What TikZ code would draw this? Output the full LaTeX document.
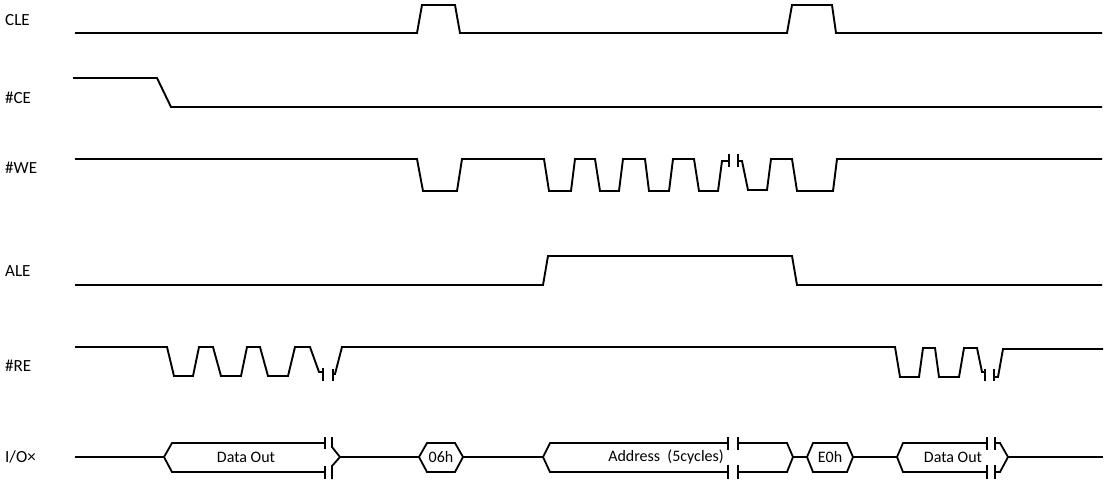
\documentclass[tikz,border=0pt]{standalone}
\usepackage{fontspec}
\setmainfont{Carlito}
\begin{document}
\begin{tikzpicture}[x=1pt,y=-1pt,
  sig/.style={line width=1.9pt,line join=miter,line cap=butt},
  bus/.style={line width=1.8pt,line join=miter},
  wire/.style={line width=1.4pt},
  lbl/.style={anchor=west,inner sep=0pt,font=\fontsize{17}{20}\selectfont},
  txt/.style={inner sep=0pt,font=\fontsize{16}{19}\selectfont}]
\useasboundingbox (0,0) rectangle (1107,480);
% labels
\node[lbl] (lcle) at (5,20) {CLE};
\node[lbl] (lce) at (5,98) {\#CE};
\node[lbl] (lwe) at (5,168) {\#WE};
\node[lbl] (lale) at (5,271) {ALE};
\node[lbl] (lre) at (5,366) {\#RE};
\node[lbl] (lio) at (5,457) {I/O×};
% CLE
\draw[sig] (75,33) -- (417,33) -- (422,5) -- (455,5) -- (460,33) -- (787,33) -- (792,5) -- (832,5) -- (836,33) -- (1102,33);
% #CE
\draw[sig] (73,78) -- (157,78) -- (171,107) -- (1102,107);
% #WE
\draw[sig] (75,159) -- (417,159) -- (423,191) -- (457,191) -- (462,159) -- (544,159) -- (549,191) -- (571,191) -- (575,159) -- (595,159) -- (600,191) -- (619,191) -- (623,159) -- (645,159) -- (649,191) -- (669,191) -- (673,159) -- (694,159) -- (699,191) -- (718,191) -- (722,161) -- (729,161);
\draw[sig] (729,154) -- (729,167);
\draw[sig] (738,154) -- (738,167);
\draw[sig] (738,161) -- (742,161) -- (748,190) -- (767,190) -- (771,159) -- (792,159) -- (797,191) -- (833,191) -- (837,159) -- (1102,159);
% ALE
\draw[sig] (75,285) -- (543,285) -- (548,256) -- (792,256) -- (797,285) -- (1102,285);
% #RE
\draw[sig] (75,347) -- (167,347) -- (174,376) -- (193,376) -- (199,347) -- (213,347) -- (221,376) -- (241,376) -- (247,347) -- (260,347) -- (268,376) -- (288,376) -- (295,347) -- (310,347) -- (319,372) -- (323,372);
\draw[sig] (323,368) -- (323,381);
\draw[sig] (333,369) -- (333,381);
\draw[sig] (333,374) -- (335,374) -- (342,347) -- (895,347) -- (900,377) -- (919,377) -- (923,348) -- (935,348) -- (939,377) -- (959,377) -- (964,348) -- (977,348) -- (982,372) -- (985,372);
\draw[sig] (985,369) -- (985,381);
\draw[sig] (994,369) -- (994,381);
\draw[sig] (994,377) -- (998,377) -- (1003,349) -- (1103,349);
% I/O
\draw[wire] (75,457) -- (164,457);
\draw[bus] (325,443) -- (172,443) -- (164,457) -- (172,472) -- (325,472);
\draw[bus] (325,437) -- (325,449) (325,466) -- (325,479);
\draw[bus] (332,437) -- (332,447) -- (340,457) -- (332,466) -- (332,479);
\draw[wire] (340,457) -- (419,457);
\draw[bus] (419,457) -- (427,443) -- (455,443) -- (463,457) -- (455,472) -- (427,472) -- cycle;
\node[txt] (t06) at (441,457) {06h};
\draw[wire] (463,457) -- (543,457);
\draw[bus] (728,443) -- (550,443) -- (543,457) -- (550,472) -- (728,472);
\draw[bus] (728,437) -- (728,450) (728,465) -- (728,479);
\draw[bus] (738,437) -- (738,450) (738,465) -- (738,479);
\draw[bus] (738,443) -- (787,443) -- (793,457) -- (787,472) -- (738,472);
\node[txt] (taddr) at (666,457) {Address\ \ (5cycles)};
\draw[wire] (793,457) -- (807,457);
\draw[bus] (807,457) -- (813,443) -- (847,443) -- (853,457) -- (847,472) -- (813,472) -- cycle;
\node[txt] (te0) at (830,457) {E0h};
\draw[wire] (853,457) -- (897,457);
\draw[bus] (987,443) -- (903,443) -- (897,457) -- (903,472) -- (987,472);
\draw[bus] (987,437) -- (987,450) (987,465) -- (987,479);
\draw[bus] (995,437) -- (995,450) (995,465) -- (995,479);
\draw[bus] (995,443) -- (1000,443) -- (1008,457) -- (1000,472) -- (995,472);
\draw[wire] (1008,457) -- (1103,457);
\node[txt] (td1) at (246,457) {Data Out};
\node[txt] (td2) at (953,457) {Data Out};
\end{tikzpicture}
\end{document}
